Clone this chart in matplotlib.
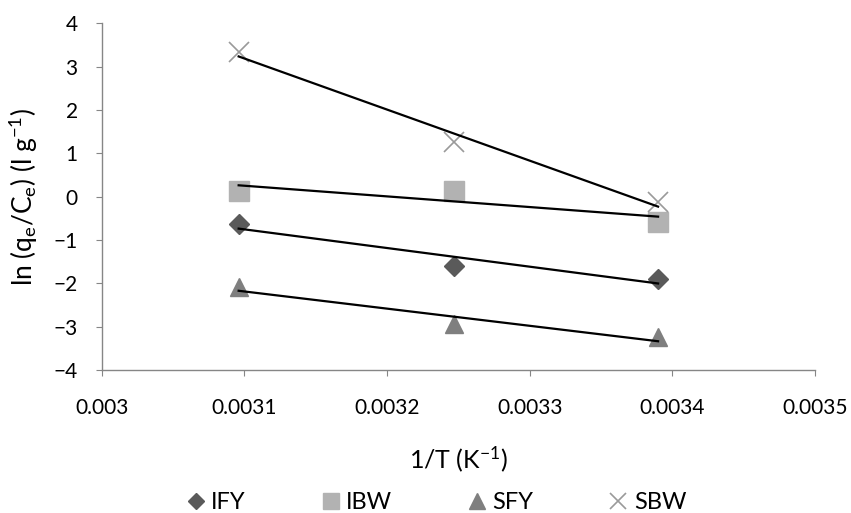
import numpy as np
import matplotlib
matplotlib.use("Agg")
import matplotlib.pyplot as plt

plt.rcParams['font.family'] = ['Lato', 'DejaVu Sans']
plt.rcParams['mathtext.fontset'] = 'custom'
plt.rcParams['mathtext.rm'] = 'Lato'
plt.rcParams['mathtext.it'] = 'Lato'

# 1/T values (K^-1) for 323, 308 and 295 K
inv_T = [0.003096, 0.003247, 0.003390]

series_names = ["IFY", "IBW", "SFY", "SBW"]
ify = [-0.63, -1.61, -1.89]
ibw = [0.14, 0.14, -0.59]
sfy = [-2.09, -2.94, -3.25]
sbw = [3.33, 1.26, -0.13]

x_ticks = [0.003, 0.0031, 0.0032, 0.0033, 0.0034, 0.0035]
x_tick_labels = ["0.003", "0.0031", "0.0032", "0.0033", "0.0034", "0.0035"]
y_ticks = [-4, -3, -2, -1, 0, 1, 2, 3, 4]

styles = {
    "IFY": dict(marker="D", color="#5a5a5a", ms=10),
    "IBW": dict(marker="s", color="#b2b2b2", ms=14),
    "SFY": dict(marker="^", color="#7f7f7f", ms=13.5),
    "SBW": dict(marker="x", color="#9a9a9a", ms=14, mew=1.2),
}

fig = plt.figure(figsize=(8.51, 5.13), dpi=100)
ax = fig.add_axes([0.1195, 0.2788, 0.8382, 0.6758])

x = np.array(inv_T)
for name, vals in zip(series_names, [ify, ibw, sfy, sbw]):
    st = dict(styles[name])
    ax.plot(x, vals, linestyle="none", label=name, zorder=2, **st)
    slope, intercept = np.polyfit(x, vals, 1)
    ax.plot(x[[0, -1]], slope * x[[0, -1]] + intercept, color="black", lw=1.6, zorder=3)

ax.set_xlim(0.003, 0.0035)
ax.set_ylim(-4, 4)
ax.set_xticks(x_ticks)
ax.set_xticklabels(x_tick_labels)
ax.set_yticks(y_ticks)

for s in ["top", "right"]:
    ax.spines[s].set_visible(False)
for s in ["left", "bottom"]:
    ax.spines[s].set_color("#868686")
    ax.spines[s].set_linewidth(1.0)
ax.tick_params(axis="both", direction="out", length=4.3, color="#868686", labelsize=15)
ax.tick_params(axis="y", pad=13)
ax.tick_params(axis="x", pad=16)

ax.set_xlabel(r"1/T (K$^{-1}$)", fontsize=18, labelpad=19)
ax.set_ylabel(r"ln (q$_\mathregular{e}$/C$_\mathregular{e}$) (l g$^{-1}$)", fontsize=19, labelpad=10)

leg = fig.legend(loc="lower center", bbox_to_anchor=(0.512, -0.042), ncol=4, frameon=False,
                 fontsize=17, handlelength=0.9, handletextpad=0.2, columnspacing=3.15,
                 markerscale=0.85)

fig.savefig("out.png", dpi=100)
